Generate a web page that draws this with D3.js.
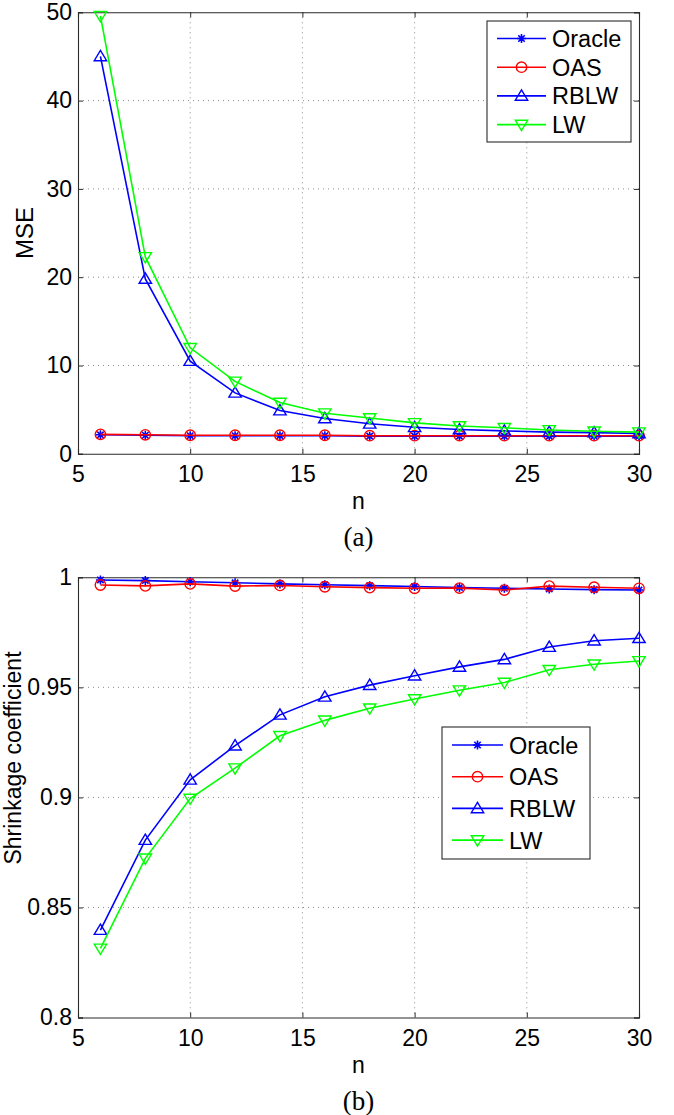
<!DOCTYPE html>
<html>
<head>
<meta charset="utf-8">
<script src="https://cdn.jsdelivr.net/npm/d3@7"></script>
<style>
  html, body { margin: 0; padding: 0; background: #fff; }
  svg { display: block; }
  text { font-family: "Liberation Sans", Arial, sans-serif; fill: #000; }
</style>
</head>
<body>
<svg id="chart" width="674" height="1115"></svg>
<script>
// ---------- data ----------
const nValues = [6, 8, 10, 12, 14, 16, 18, 20, 22, 24, 26, 28, 30];
const seriesNames = ["Oracle", "OAS", "RBLW", "LW"];
const seriesColors = ["#0000ff", "#ff0000", "#0000ff", "#00ff00"];
const seriesMarkers = ["star", "circle", "triUp", "triDown"];

// panel (a): MSE
const mseOracle = [2.15, 2.1, 2.05, 2.05, 2.05, 2.05, 2.0, 2.0, 2.0, 2.0, 2.0, 2.0, 2.0];
const mseOAS    = [2.2, 2.15, 2.1, 2.1, 2.1, 2.1, 2.05, 2.05, 2.05, 2.05, 2.05, 2.05, 2.05];
const mseRBLW   = [45.0, 19.8, 10.5, 6.9, 4.9, 4.0, 3.4, 3.0, 2.75, 2.6, 2.45, 2.4, 2.3];
const mseLW     = [49.6, 22.3, 12.0, 8.2, 5.8, 4.6, 4.05, 3.5, 3.15, 2.95, 2.7, 2.55, 2.45];

// panel (b): shrinkage coefficient
const shrOracle = [0.9988, 0.9985, 0.998, 0.9975, 0.997, 0.9966, 0.9962, 0.9958, 0.9954, 0.995, 0.9947, 0.9944, 0.9942];
const shrOAS    = [0.9965, 0.9961, 0.997, 0.996, 0.9963, 0.9957, 0.9953, 0.995, 0.9951, 0.9942, 0.996, 0.9955, 0.995];
const shrRBLW   = [0.8397, 0.8806, 0.908, 0.9235, 0.9375, 0.9457, 0.951, 0.9553, 0.9593, 0.9627, 0.9683, 0.9712, 0.9723];
const shrLW     = [0.8314, 0.8723, 0.8995, 0.9133, 0.928, 0.935, 0.9405, 0.9447, 0.9487, 0.9522, 0.958, 0.9605, 0.962];

const xTicks = [5, 10, 15, 20, 25, 30];
const xTickLabels = ["5", "10", "15", "20", "25", "30"];
const yTicksA = [0, 10, 20, 30, 40, 50];
const yTickLabelsA = ["0", "10", "20", "30", "40", "50"];
const yTicksB = [0.8, 0.85, 0.9, 0.95, 1];
const yTickLabelsB = ["0.8", "0.85", "0.9", "0.95", "1"];

const xLabel = "n";
const yLabelA = "MSE";
const yLabelB = "Shrinkage coefficient";
const captionA = "(a)";
const captionB = "(b)";

// ---------- drawing ----------
const svg = d3.select("#chart");

const markerPaths = {
  star: "M-4.5,0L4.5,0M0,-4.5L0,4.5M-3.2,-3.2L3.2,3.2M-3.2,3.2L3.2,-3.2",
  circle: d3.symbol().type(d3.symbolCircle).size(Math.PI * 5.2 * 5.2)(),
  triUp: "M0,-6L6.2,4.3L-6.2,4.3Z",
  triDown: "M0,6L6.2,-4.3L-6.2,-4.3Z"
};

function drawMarker(g, type, color, x, y) {
  g.append("path")
    .attr("d", markerPaths[type])
    .attr("transform", `translate(${x},${y})`)
    .attr("fill", "none")
    .attr("stroke", color)
    .attr("stroke-width", type === "star" ? 1.6 : 1.4);
}

function panel(opts) {
  const { left, right, top, bottom, xDomain, yDomain, yTicks, yTickLabels,
          series, legend, yLabel, yLabelX, yLabelY, yLabelSize, caption } = opts;
  const x = d3.scaleLinear().domain(xDomain).range([left, right]);
  const y = d3.scaleLinear().domain(yDomain).range([bottom, top]);
  const g = svg.append("g");

  // grid (dotted)
  const grid = g.append("g").attr("stroke", "#8c8c8c").attr("stroke-width", 1)
    .attr("stroke-dasharray", "1,4");
  xTicks.slice(1, -1).forEach(t => {
    grid.append("line").attr("x1", x(t)).attr("x2", x(t)).attr("y1", top).attr("y2", bottom);
  });
  yTicks.slice(1, -1).forEach(t => {
    grid.append("line").attr("x1", left).attr("x2", right).attr("y1", y(t)).attr("y2", y(t));
  });

  // axes with inward ticks
  const axB = d3.axisBottom(x).tickValues(xTicks).tickSize(-5).tickPadding(12)
    .tickFormat((d, i) => xTickLabels[i]);
  const axT = d3.axisTop(x).tickValues(xTicks).tickSize(-5).tickFormat("");
  const axL = d3.axisLeft(y).tickValues(yTicks).tickSize(-5).tickPadding(6)
    .tickFormat((d, i) => yTickLabels[i]);
  const axR = d3.axisRight(y).tickValues(yTicks).tickSize(-5).tickFormat("");

  [[axB, `translate(0,${bottom})`], [axT, `translate(0,${top})`],
   [axL, `translate(${left},0)`], [axR, `translate(${right},0)`]].forEach(([ax, tr]) => {
    const a = g.append("g").attr("transform", tr).call(ax);
    a.select(".domain").attr("stroke", "#2a2a2a").attr("stroke-width", 1.1);
    a.selectAll(".tick line").attr("stroke", "#2a2a2a");
    a.selectAll("text").style("font-size", "23px").attr("fill", "#000")
      .style("font-family", "'Liberation Sans', Arial, sans-serif");
  });

  // series
  const line = d3.line().x(d => x(d[0])).y(d => y(d[1]));
  series.forEach((vals, si) => {
    const pts = nValues.map((n, i) => [n, vals[i]]);
    const sg = g.append("g");
    sg.append("path").datum(pts).attr("d", line)
      .attr("fill", "none").attr("stroke", seriesColors[si]).attr("stroke-width", 1.6);
    pts.forEach(p => drawMarker(sg, seriesMarkers[si], seriesColors[si], x(p[0]), y(p[1])));
  });

  // legend
  const lg = g.append("g");
  lg.append("rect").attr("x", legend.x0).attr("y", legend.y0)
    .attr("width", legend.x1 - legend.x0).attr("height", legend.y1 - legend.y0)
    .attr("fill", "#fff").attr("stroke", "#2a2a2a").attr("stroke-width", 1.1);
  seriesNames.forEach((name, i) => {
    const yy = legend.firstY + i * legend.step;
    lg.append("line").attr("x1", legend.lineX0).attr("x2", legend.lineX1)
      .attr("y1", yy).attr("y2", yy).attr("stroke", seriesColors[i]).attr("stroke-width", 1.6);
    drawMarker(lg, seriesMarkers[i], seriesColors[i], (legend.lineX0 + legend.lineX1) / 2, yy);
    lg.append("text").attr("x", legend.textX).attr("y", yy + 8.5)
      .style("font-size", "23.5px").text(name);
  });

  // labels
  g.append("text").attr("x", (left + right) / 2).attr("y", bottom + 55)
    .attr("text-anchor", "middle").style("font-size", "23px").text(xLabel);
  g.append("text").attr("transform", `translate(${yLabelX},${yLabelY}) rotate(-90)`)
    .attr("text-anchor", "middle").style("font-size", yLabelSize).text(yLabel);
  g.append("text").attr("x", (left + right) / 2).attr("y", bottom + 92)
    .attr("text-anchor", "middle")
    .style("font-family", "'Liberation Serif', 'Times New Roman', serif")
    .style("font-size", "27px").text(caption);
}

panel({
  left: 78, right: 639, top: 12.3, bottom: 453.8,
  xDomain: [5, 30], yDomain: [0, 50],
  yTicks: yTicksA, yTickLabels: yTickLabelsA,
  series: [mseOracle, mseOAS, mseRBLW, mseLW],
  legend: { x0: 487, x1: 631, y0: 21, y1: 142, firstY: 38.5, step: 28.7,
            lineX0: 497, lineX1: 546, textX: 552 },
  yLabel: yLabelA, yLabelX: 33, yLabelY: 233, yLabelSize: "24px", caption: captionA
});

panel({
  left: 78, right: 639, top: 577.3, bottom: 1017.5,
  xDomain: [5, 30], yDomain: [0.8, 1],
  yTicks: yTicksB, yTickLabels: yTickLabelsB,
  series: [shrOracle, shrOAS, shrRBLW, shrLW],
  legend: { x0: 442, x1: 590, y0: 727, y1: 859, firstY: 745, step: 31.7,
            lineX0: 452, lineX1: 503, textX: 509 },
  yLabel: yLabelB, yLabelX: 21, yLabelY: 758, yLabelSize: "23px", caption: captionB
});
</script>
</body>
</html>
